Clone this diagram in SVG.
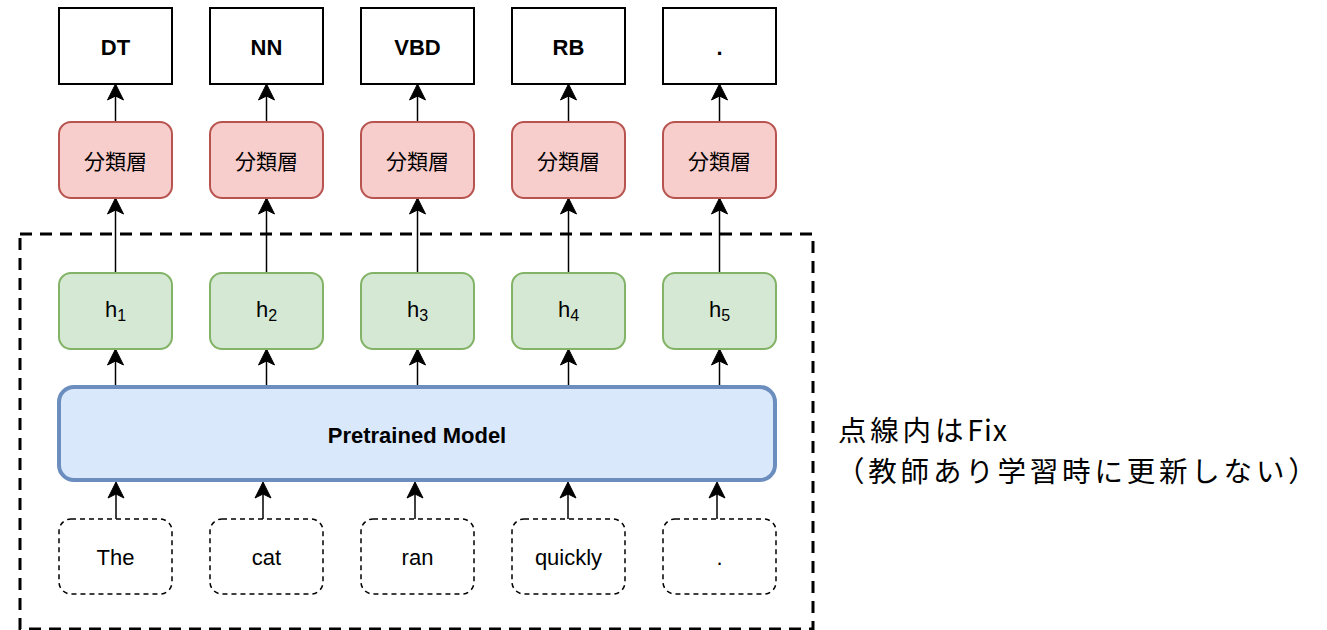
<svg xmlns="http://www.w3.org/2000/svg" width="1327" height="630" viewBox="0 0 1327 630">
<defs>
<style>
.out{fill:#fff;stroke:#000;stroke-width:2}
.cls{fill:#f8cecc;stroke:#b85450;stroke-width:2}
.hid{fill:#d5e8d4;stroke:#82b366;stroke-width:2}
.inp{fill:#fff;stroke:#000;stroke-width:1.5;stroke-dasharray:5 4}
.t{font-family:"Liberation Sans",Arial,"Noto Sans CJK JP",sans-serif;font-size:22px;fill:#000;text-anchor:middle;dominant-baseline:central}
.b{font-weight:bold}
.cjk{font-family:"Noto Sans CJK JP",sans-serif;font-size:21px}
.edge{stroke:#000;stroke-width:1.5;fill:none;marker-end:url(#arr)}
.note{font-family:"Noto Sans CJK JP","Noto Sans",sans-serif;font-size:28.5px;fill:#000;letter-spacing:3.8px}
</style>
<marker id="arr" markerUnits="userSpaceOnUse" markerWidth="18" markerHeight="18" viewBox="0 0 18 18" refX="16" refY="9" orient="auto">
<path d="M1,1 L17,9 L1,17 L5,9 Z" fill="#000" stroke="#000" stroke-width="1"/>
</marker>
</defs>
<g id="frame"><rect x="20" y="234" width="793" height="395" fill="none" stroke="#000" stroke-width="3" stroke-dasharray="12 8"/></g>
<g id="connectors">
<path class="edge" d="M115.5,122 V85"/><path class="edge" d="M266.5,122 V85"/><path class="edge" d="M417.5,122 V85"/><path class="edge" d="M568.5,122 V85"/><path class="edge" d="M719.5,122 V85"/>
<path class="edge" d="M115.5,273 V199"/><path class="edge" d="M266.5,273 V199"/><path class="edge" d="M417.5,273 V199"/><path class="edge" d="M568.5,273 V199"/><path class="edge" d="M719.5,273 V199"/>
<path class="edge" d="M115.5,385 V350"/><path class="edge" d="M266.5,385 V350"/><path class="edge" d="M417.5,385 V350"/><path class="edge" d="M568.5,385 V350"/><path class="edge" d="M719.5,385 V350"/>
<path class="edge" d="M116,519 V483"/><path class="edge" d="M263,519 V483"/><path class="edge" d="M415,519 V483"/><path class="edge" d="M568,519 V483"/><path class="edge" d="M717,519 V483"/>
</g>
<g id="out1"><rect class="out" x="59" y="8" width="113" height="76"/><text class="t b" x="115.5" y="47">DT</text></g>
<g id="out2"><rect class="out" x="210" y="8" width="113" height="76"/><text class="t b" x="266.5" y="47">NN</text></g>
<g id="out3"><rect class="out" x="361" y="8" width="113" height="76"/><text class="t b" x="417.5" y="47">VBD</text></g>
<g id="out4"><rect class="out" x="512" y="8" width="113" height="76"/><text class="t b" x="568.5" y="47">RB</text></g>
<g id="out5"><rect class="out" x="663" y="8" width="113" height="76"/><text class="t b" x="719.5" y="47">.</text></g>
<g id="cls1"><rect class="cls" x="59" y="122" width="113" height="76" rx="12"/><text class="t cjk" x="115.5" y="160">分類層</text></g>
<g id="cls2"><rect class="cls" x="210" y="122" width="113" height="76" rx="12"/><text class="t cjk" x="266.5" y="160">分類層</text></g>
<g id="cls3"><rect class="cls" x="361" y="122" width="113" height="76" rx="12"/><text class="t cjk" x="417.5" y="160">分類層</text></g>
<g id="cls4"><rect class="cls" x="512" y="122" width="113" height="76" rx="12"/><text class="t cjk" x="568.5" y="160">分類層</text></g>
<g id="cls5"><rect class="cls" x="663" y="122" width="113" height="76" rx="12"/><text class="t cjk" x="719.5" y="160">分類層</text></g>
<g id="h1"><rect class="hid" x="59" y="273" width="113" height="76" rx="12"/><text class="t" x="115.5" y="309">h<tspan font-size="16" dy="6">1</tspan></text></g>
<g id="h2"><rect class="hid" x="210" y="273" width="113" height="76" rx="12"/><text class="t" x="266.5" y="309">h<tspan font-size="16" dy="6">2</tspan></text></g>
<g id="h3"><rect class="hid" x="361" y="273" width="113" height="76" rx="12"/><text class="t" x="417.5" y="309">h<tspan font-size="16" dy="6">3</tspan></text></g>
<g id="h4"><rect class="hid" x="512" y="273" width="113" height="76" rx="12"/><text class="t" x="568.5" y="309">h<tspan font-size="16" dy="6">4</tspan></text></g>
<g id="h5"><rect class="hid" x="663" y="273" width="113" height="76" rx="12"/><text class="t" x="719.5" y="309">h<tspan font-size="16" dy="6">5</tspan></text></g>
<g id="model"><rect x="59" y="387" width="716" height="93" rx="15" fill="#dae8fc" stroke="#6c8ebf" stroke-width="4"/><text class="t b" x="417" y="435" font-size="20.5">Pretrained Model</text></g>
<g id="in1"><rect class="inp" x="59" y="519" width="113" height="75" rx="12"/><text class="t" x="115.5" y="557">The</text></g>
<g id="in2"><rect class="inp" x="210" y="519" width="113" height="75" rx="12"/><text class="t" x="266.5" y="557">cat</text></g>
<g id="in3"><rect class="inp" x="361" y="519" width="113" height="75" rx="12"/><text class="t" x="417.5" y="557">ran</text></g>
<g id="in4"><rect class="inp" x="512" y="519" width="113" height="75" rx="12"/><text class="t" x="568.5" y="557">quickly</text></g>
<g id="in5"><rect class="inp" x="663" y="519" width="113" height="75" rx="12"/><text class="t" x="719.5" y="557">.</text></g>
<g id="note"><text class="note" x="838" y="441">点線内は<tspan letter-spacing="1px">Fix</tspan></text><text class="note" x="836" y="482">（教師あり学習時に更新しない）</text></g>
</svg>
